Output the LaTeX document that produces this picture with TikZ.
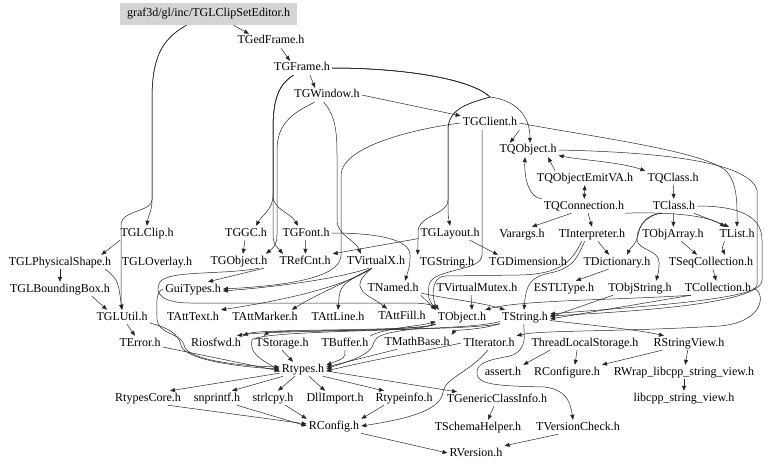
\documentclass[tikz,border=0pt]{standalone}
\usepackage{fontspec}
\setmainfont{Liberation Serif}
\usetikzlibrary{arrows.meta}
\begin{document}
\begin{tikzpicture}[x=1pt,y=-1pt,
  n/.style={inner xsep=2pt, inner ysep=0pt, text height=8.5pt, text depth=2.5pt, minimum height=14pt, font=\fontsize{12}{14}\selectfont},
  e/.style={draw=black!85, line width=0.5pt, -{Triangle[length=5pt,width=4pt]}},
  ee/.style={draw=black!85, line width=0.5pt, {Triangle[length=5pt,width=4pt]}-{Triangle[length=5pt,width=4pt]}}]
\useasboundingbox (0,0) rectangle (768,468);
% nodes
\node[n, fill=black!17, minimum width=177pt, minimum height=22pt] (root) at (208.5,14) {graf3d/gl/inc/TGLClipSetEditor.h};
\node[n] (gedframe) at (271,41) {TGedFrame.h};
\node[n] (frame) at (302,68) {TGFrame.h};
\node[n] (window) at (327,95) {TGWindow.h};
\node[n] (client) at (490,123) {TGClient.h};
\node[n] (qobject) at (528,150) {TQObject.h};
\node[n] (emitva) at (585,178) {TQObjectEmitVA.h};
\node[n] (qclass) at (673,178) {TQClass.h};
\node[n] (qconn) at (584,206) {TQConnection.h};
\node[n] (tclass) at (674,206) {TClass.h};
\node[n] (glclip) at (147,233) {TGLClip.h};
\node[n] (ggc) at (246,233) {TGGC.h};
\node[n] (gfont) at (306,233) {TGFont.h};
\node[n] (glayout) at (450,233) {TGLayout.h};
\node[n] (varargs) at (522,234) {Varargs.h};
\node[n] (interp) at (592,234) {TInterpreter.h};
\node[n] (objarray) at (673,234) {TObjArray.h};
\node[n] (tlist) at (737,234) {TList.h};
\node[n] (physshape) at (60,262) {TGLPhysicalShape.h};
\node[n] (gloverlay) at (157,262) {TGLOverlay.h};
\node[n] (gobject) at (239,261) {TGObject.h};
\node[n] (refcnt) at (305,261) {TRefCnt.h};
\node[n] (virtualx) at (376,261) {TVirtualX.h};
\node[n] (gstring) at (447,262) {TGString.h};
\node[n] (gdim) at (528,262) {TGDimension.h};
\node[n] (dict) at (617,262) {TDictionary.h};
\node[n] (seqcoll) at (711,262) {TSeqCollection.h};
\node[n] (bbox) at (60,289) {TGLBoundingBox.h};
\node[n] (guitypes) at (193,289) {GuiTypes.h};
\node[n] (named) at (393,288) {TNamed.h};
\node[n] (vmutex) at (477,288) {TVirtualMutex.h};
\node[n] (estl) at (564,288) {ESTLType.h};
\node[n] (objstring) at (640,288) {TObjString.h};
\node[n] (collection) at (718,288) {TCollection.h};
\node[n] (glutil) at (122,317) {TGLUtil.h};
\node[n] (atttext) at (193,317) {TAttText.h};
\node[n] (attmarker) at (265,317) {TAttMarker.h};
\node[n] (attline) at (338,317) {TAttLine.h};
\node[n] (attfill) at (402,316) {TAttFill.h};
\node[n] (tobject) at (462,317) {TObject.h};
\node[n] (tstring) at (525,317) {TString.h};
\node[n] (terror) at (140,343) {TError.h};
\node[n] (riosfwd) at (216,343) {Riosfwd.h};
\node[n] (storage) at (282,343) {TStorage.h};
\node[n] (buffer) at (345,343) {TBuffer.h};
\node[n] (mathbase) at (417,342) {TMathBase.h};
\node[n] (iterator) at (489,343) {TIterator.h};
\node[n] (tls) at (585,343) {ThreadLocalStorage.h};
\node[n] (strview) at (689,343) {RStringView.h};
\node[n] (rtypes) at (303,369) {Rtypes.h};
\node[n] (assert) at (503,372) {assert.h};
\node[n] (rconfigure) at (567,372) {RConfigure.h};
\node[n] (rwrap) at (684,372) {RWrap\_libcpp\_string\_view.h};
\node[n] (rtypescore) at (148,398) {RtypesCore.h};
\node[n] (snprintf) at (217,398) {snprintf.h};
\node[n] (strlcpy) at (273,398) {strlcpy.h};
\node[n] (dllimport) at (335,398) {DllImport.h};
\node[n] (rtypeinfo) at (404,398) {Rtypeinfo.h};
\node[n] (genclass) at (497,399) {TGenericClassInfo.h};
\node[n] (libcpp) at (684,398) {libcpp\_string\_view.h};
\node[n] (rconfig) at (334,426) {RConfig.h};
\node[n] (schema) at (478,427) {TSchemaHelper.h};
\node[n] (vcheck) at (578,427) {TVersionCheck.h};
\node[n] (rversion) at (476,453) {RVersion.h};
% edges: top-left
\draw[e] ([xshift=25pt]root.south) -- ([xshift=-22pt]gedframe.north);
\draw[e] ([xshift=10pt]gedframe.south) -- ([xshift=-12pt]frame.north);
\draw[e] ([xshift=8pt]frame.south) -- ([xshift=-12pt]window.north);
\draw[e] ([xshift=-22pt]root.south) .. controls (160,40) and (152,60) .. (152,100) -- (152,200) .. controls (152,212) and (148,215) .. (glclip.north);
\draw[e] ([xshift=-22pt]root.south) .. controls (160,40) and (152,60) .. (152,100) -- (152,200) .. controls (152,212) and (121,210) .. (121,225) -- (121,295) .. controls (121,303) .. (glutil.north);
\draw[e] (glclip.195) -- ([xshift=-12pt]physshape.north east);
\draw[e] (physshape) -- (bbox);
\draw[e] ([xshift=-8pt]physshape.south east) .. controls (118,280) .. (glutil.north);
\draw[e] ([xshift=-20pt]bbox.south east) -- ([xshift=-15pt]glutil.north);
\draw[e] (glutil) -- (terror);
\draw[e] (glutil.-12) .. controls (168,328) and (178,333) .. (181,345) .. controls (184,360) and (240,367) .. (rtypes.west);
\draw[e] (terror.-10) -- ([yshift=-2pt]rtypes.west);
% frame and window
\draw[e] (frame.east) .. controls (400,68) and (470,78) .. (490,97) .. controls (470,103) and (448,108) .. (448,130) -- (448,205) .. controls (448,215) .. (glayout.north);
\draw[e] (frame.east) .. controls (400,68) and (470,78) .. (490,97) .. controls (515,100) and (530,115) .. ([xshift=2pt]qobject.north);
\draw[e] (frame.east) .. controls (400,68) and (470,78) .. (490,97) .. controls (470,103) and (448,108) .. (448,130) -- (448,200) .. controls (448,215) and (418,215) .. (418,232) .. controls (418,245) .. (gstring.north west);
\draw[e] (frame.-140) .. controls (278,85) and (273,100) .. (273,130) -- (273,195) .. controls (273,210) and (262,215) .. ([xshift=10pt]ggc.north);
\draw[e] (frame.-140) .. controls (278,85) and (273,100) .. (273,130) -- (273,195) .. controls (273,210) and (290,212) .. ([xshift=-8pt]gfont.north);
\draw[e] (frame.-140) .. controls (278,85) and (273,100) .. (273,130) -- (273,235) .. controls (273,245) and (278,248) .. ([xshift=-22pt]refcnt.north);
\draw[e] (window.-150) .. controls (295,112) and (277,122) .. (277,150) -- (277,235) .. controls (277,245) and (273,248) .. ([xshift=27pt]gobject.north);
\draw[e] (window.-115) .. controls (335,115) and (337,130) .. (337,155) -- (337,220) .. controls (337,235) and (355,240) .. ([xshift=-15pt]virtualx.north);
\draw[e] (window.east) -- (client.north west);
\draw[e] (client.west) .. controls (420,128) and (342,145) .. (341,175) -- (341,255) .. controls (341,275) and (300,285) .. (guitypes.east);
\draw[e] (virtualx.-135) .. controls (350,275) and (300,285) .. ([yshift=-2pt]guitypes.east);
\draw[e] ([xshift=25pt]gobject.south) -- ([xshift=15pt]guitypes.north);
\draw[e] (ggc) -- ([xshift=4pt]gobject.north);
\draw[e] (gfont) -- (refcnt);
\draw[e] (gfont.east) .. controls (380,233) and (410,240) .. (410,255) .. controls (410,265) .. ([xshift=12pt]named.north);
\draw[e] (glayout.190) -- (refcnt.north east);
\draw[e] (glayout.-20) -- ([xshift=-30pt]gdim.north);
\draw[e] ([xshift=-8pt]client.south) -- (482,255) .. controls (482,272) and (432,268) .. (429,285) .. controls (428,298) .. (tobject.north west);
\draw[e] (gobject.-20) .. controls (225,275) and (168,270) .. (160,282) .. controls (153,295) and (165,303) .. (190,303) -- (410,303) .. controls (425,303) and (432,305) .. (tobject.north west);
% TVirtualX to attributes
\draw[e] (virtualx.-120) .. controls (350,283) and (300,298) .. (atttext.north east);
\draw[e] (virtualx.-120) .. controls (345,283) and (315,295) .. ([xshift=-8pt]attmarker.north east);
\draw[e] (virtualx.-120) .. controls (340,285) .. (attline.north);
\draw[e] (virtualx.-120) .. controls (345,290) and (370,295) .. ([xshift=-15pt]attfill.north);
\draw[e] (named.south east) -- (tobject.north west);
\draw[e] (named.-10) .. controls (440,298) and (480,302) .. ([xshift=-20pt]tstring.north);
\draw[e] ([xshift=-6pt]vmutex.south) -- ([xshift=10pt]tobject.north);
% objects down
\draw[e] (tobject.-165) .. controls (420,332) and (260,328) .. (riosfwd.north east);
\draw[e] (tobject.-165) .. controls (420,332) and (270,330) .. ([xshift=-18pt]storage.north);
\draw[e] (tobject.-165) .. controls (410,332) and (378,330) .. (374,342) .. controls (372,356) and (345,362) .. (rtypes.east);
\draw[e] (tstring.-165) .. controls (480,330) and (455,330) .. (mathbase.north east);
\draw[e] (tstring.-165) .. controls (470,331) and (265,330) .. ([xshift=-6pt]riosfwd.north east);
\draw[e] (buffer.north east) .. controls (385,328) and (420,326) .. (tobject.-170);
\draw[e] (tstring.-100) .. controls (524,335) and (528,350) .. (510,356) .. controls (490,360) and (475,362) .. (477,375) .. controls (480,385) and (500,386) .. (545,387) .. controls (565,390) and (570,400) .. ([xshift=-5pt]vcheck.north);
\draw[e] (iterator.west) .. controls (430,350) and (380,358) .. ([yshift=-2pt]rtypes.east);
\draw[e] (mathbase.-160) -- ([yshift=2pt]rtypes.east);
\draw[e] (buffer.south) .. controls (345,358) .. ([yshift=4pt]rtypes.east);
\draw[e] (storage.south) -- ([xshift=-10pt]rtypes.north);
\draw[e] (guitypes.west) .. controls (155,292) and (157,305) .. (157,318) .. controls (157,335) and (182,333) .. (184,345) .. controls (186,360) and (240,366) .. ([yshift=2pt]rtypes.west);
\draw[e] (tstring.-170) .. controls (470,332) and (260,329) .. (252,340) .. controls (248,356) and (268,362) .. ([yshift=-3pt]rtypes.west);
% Rtypes down
\draw[e] (rtypes.-170) -- ([xshift=22pt]rtypescore.north);
\draw[e] (rtypes.-160) -- ([xshift=15pt]snprintf.north);
\draw[e] ([xshift=-8pt]rtypes.south) -- ([xshift=5pt]strlcpy.north);
\draw[e] ([xshift=6pt]rtypes.south) -- ([xshift=-10pt]dllimport.north);
\draw[e] (rtypes.-20) -- ([xshift=-20pt]rtypeinfo.north);
\draw[e] (rtypes.-5) -- ([xshift=-40pt]genclass.north);
\draw[e] (rtypescore.-20) -- ([yshift=2pt]rconfig.west);
\draw[e] (snprintf.-20) -- (rconfig.west);
\draw[e] (strlcpy.-30) -- (rconfig.north west);
\draw[e] (rtypeinfo.-160) -- (rconfig.north east);
\draw[e] (iterator.-100) .. controls (470,372) and (445,378) .. (443,392) .. controls (441,412) and (400,420) .. (rconfig.east);
\draw[e] (rconfig.-15) -- (rversion.west);
\draw[e] (vcheck.-160) -- (rversion.north east);
\draw[e] (genclass) -- ([xshift=10pt]schema.north);
% right side
\draw[e] (client.south east) -- ([xshift=-18pt]qobject.north);
\draw[e] (client.east) .. controls (580,135) and (700,150) .. (725,170) .. controls (738,182) and (737,205) .. (tlist.north);
\draw[ee] (qobject.-10) .. controls (580,160) and (620,162) .. (qclass.north west);
\draw[e] ([xshift=-30pt]emitva.north) -- ([xshift=20pt]qobject.south);
\draw[ee] (emitva) -- (qconn);
\draw[e] (qconn.north west) .. controls (530,198) and (524,180) .. ([xshift=-3pt]qobject.south);
\draw[e] (qclass) -- (tclass);
\draw[e] (qconn.-150) -- ([xshift=10pt]varargs.north);
\draw[e] ([xshift=4pt]qconn.south) -- (interp.north);
\draw[e] (qconn.-10) .. controls (660,212) and (705,214) .. ([xshift=-12pt]tlist.north);
\draw[e] (tclass) -- (objarray);
\draw[e] (tclass.-20) -- ([xshift=-8pt]tlist.north);
\draw[e] (tclass.-150) .. controls (645,215) and (640,225) .. (638,235) .. controls (636,245) and (630,248) .. ([xshift=10pt]dict.north);
\draw[e] (tclass.-150) .. controls (645,215) and (636,230) .. (637,240) .. controls (638,250) and (659,250) .. (659,262) .. controls (659,270) .. ([xshift=16pt]objstring.north);
\draw[e] (tclass.east) .. controls (730,206) and (762,212) .. (762,240) -- (762,280) .. controls (762,305) and (620,312) .. ([yshift=1pt]tstring.east);
\draw[e] (qobject.east) .. controls (650,152) and (748,160) .. (757,190) -- (757,285) .. controls (757,300) and (620,308) .. ([yshift=3pt]tstring.east);
\draw[e] (interp) -- ([xshift=-8pt]dict.north);
\draw[e] (interp.-135) .. controls (578,255) and (575,268) .. (550,273) .. controls (530,277) and (526,285) .. ([xshift=-1pt]tstring.north);
\draw[e] (interp.-145) .. controls (572,262) and (560,274) .. (520,275) -- (445,276) .. controls (430,277) and (432,300) .. ([xshift=3pt]tobject.north west);
\draw[e] (objarray) -- ([xshift=-14pt]seqcoll.north);
\draw[e] (tlist.-150) .. controls (722,248) .. ([xshift=14pt]seqcoll.north);
\draw[e] (seqcoll) -- (collection);
\draw[e] (dict.-140) -- ([xshift=12pt]estl.north);
\draw[e] (objstring.-165) -- (tstring.east);
\draw[e] (collection.-165) -- ([yshift=-2pt]tstring.east);
\draw[e] (collection.-165) .. controls (620,300) and (520,300) .. ([xshift=-3pt]tobject.north east);
\draw[e] (collection.east) .. controls (766,292) and (765,322) .. (720,326) .. controls (620,332) and (540,330) .. (iterator.north east);
\draw[e] (tstring.-8) .. controls (590,325) and (640,330) .. ([xshift=-25pt]strview.north);
\draw[e] (strview) -- (rwrap);
\draw[e] (rwrap) -- (libcpp);
\draw[e] (strview.-165) -- (rconfigure.north east);
\draw[e] ([xshift=-8pt]tls.south) -- ([xshift=8pt]rconfigure.north);
\draw[e] ([xshift=-35pt]tls.south) -- (assert.north east);
\end{tikzpicture}
\end{document}
